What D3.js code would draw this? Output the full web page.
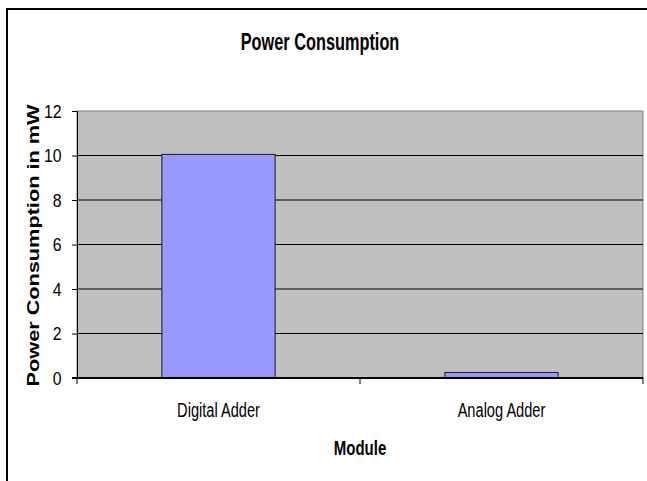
<!DOCTYPE html>
<html>
<head>
<meta charset="utf-8">
<script src="https://cdn.jsdelivr.net/npm/d3@7"></script>
<style>
  body { margin: 0; background: #fff; }
  text { font-family: "Liberation Sans", Arial, sans-serif; fill: #000; }
</style>
</head>
<body>
<div class="c_chart"></div>
<script>
/* DATA */
const modules = ["Digital Adder", "Analog Adder"];
const power = [10.05, 0.25];
const yTicks = [0, 2, 4, 6, 8, 10, 12];

const width = 647;
const height = 481;
const margin = {top: 111, right: 4, bottom: 103, left: 77};
const sx = 0.73; // the picture is squeezed horizontally

const svg = d3.select(".c_chart").append("svg")
  .attr("width", width)
  .attr("height", height);

// outer frame (right and bottom edge run off the picture)
svg.append("rect")
  .attr("x", 7).attr("y", 9)
  .attr("width", 700).attr("height", 600)
  .attr("fill", "none")
  .attr("stroke", "#000")
  .attr("stroke-width", 2);

const x = d3.scaleBand()
  .domain(modules)
  .range([margin.left, width - margin.right])
  .paddingInner(0.6)
  .paddingOuter(0.3);

const y = d3.scaleLinear()
  .domain([0, 12])
  .range([height - margin.bottom, margin.top]);

const x0 = margin.left, x1 = width - margin.right;

// plot area
svg.append("rect")
  .attr("x", x0).attr("y", y(12))
  .attr("width", x1 - x0).attr("height", y(0) - y(12))
  .attr("fill", "#C0C0C0")
  .attr("stroke", "#808080");

// gridlines
svg.append("g")
  .selectAll("line")
  .data(yTicks.filter(d => d > 0 && d < 12))
  .enter().append("line")
  .attr("x1", x0).attr("x2", x1)
  .attr("y1", d => y(d)).attr("y2", d => y(d))
  .attr("stroke", "#000");

// bars
svg.append("g")
  .selectAll("rect")
  .data(modules)
  .enter().append("rect")
  .attr("x", d => x(d))
  .attr("y", (d, i) => y(power[i]))
  .attr("width", x.bandwidth())
  .attr("height", (d, i) => y(0) - y(power[i]))
  .attr("fill", "#9999FF")
  .attr("stroke", "#1a1a1a");

// y axis
const yAxis = svg.append("g")
  .attr("transform", `translate(${x0},0)`)
  .attr("font-size", null)
  .attr("font-family", null)
  .call(d3.axisLeft(y).tickValues(yTicks).tickSize(5).tickPadding(11));
yAxis.select(".domain").attr("stroke", "#000");
yAxis.selectAll(".tick text")
  .style("font-size", "18px")
  .style("font-family", "'Liberation Sans', Arial, sans-serif")
  .attr("dy", "0.36em")
  .attr("transform", `translate(-11,0) scale(0.88,1) translate(11,0)`);

// x axis line and category boundary ticks
svg.append("line")
  .attr("x1", x0 - 5).attr("x2", x1)
  .attr("y1", y(0)).attr("y2", y(0))
  .attr("stroke", "#000").attr("stroke-width", 2);
const step = (x1 - x0) / modules.length;
svg.append("g")
  .selectAll("line")
  .data(d3.range(modules.length + 1))
  .enter().append("line")
  .attr("x1", d => x0 + d * step).attr("x2", d => x0 + d * step)
  .attr("y1", y(0)).attr("y2", y(0) + 6)
  .attr("stroke", "#000");

// category labels
svg.append("g")
  .selectAll("text")
  .data(modules)
  .enter().append("text")
  .attr("transform", d => `translate(${x(d) + x.bandwidth() / 2},417) scale(0.75,1)`)
  .attr("text-anchor", "middle")
  .attr("font-size", 19.5)
  .text(d => d);

// titles
svg.append("text")
  .attr("transform", `translate(320,50) scale(0.71,1)`)
  .attr("text-anchor", "middle")
  .attr("font-size", 23)
  .attr("font-weight", "bold")
  .text("Power Consumption");

svg.append("text")
  .attr("transform", `translate(${(x0 + x1) / 2},455) scale(0.75,1)`)
  .attr("text-anchor", "middle")
  .attr("font-size", 20)
  .attr("font-weight", "bold")
  .text("Module");

svg.append("text")
  .attr("transform", `translate(39,${(y(0) + y(12)) / 2 + 1}) scale(${sx},1) rotate(-90)`)
  .attr("text-anchor", "middle")
  .attr("font-size", 21.7)
  .attr("font-weight", "bold")
  .text("Power Consumption in mW");
</script>
</body>
</html>
